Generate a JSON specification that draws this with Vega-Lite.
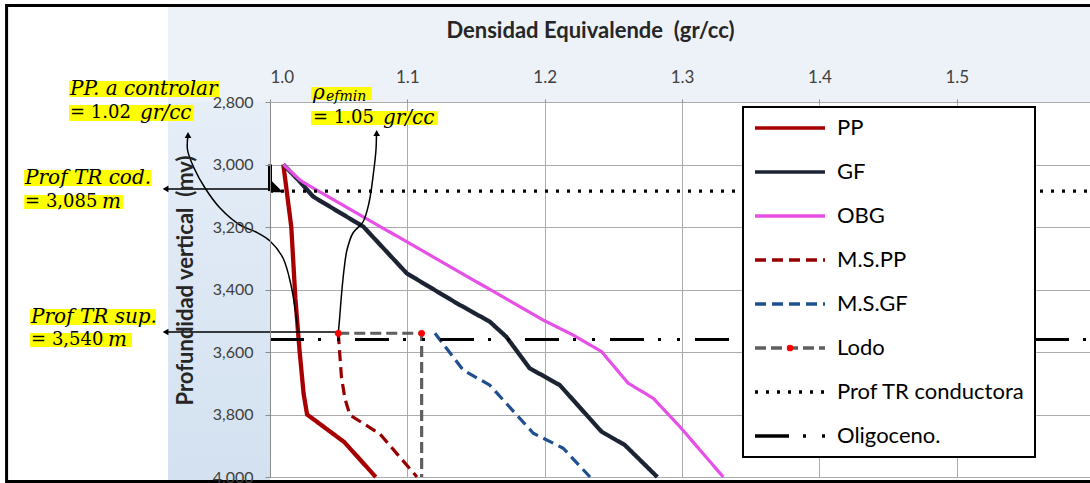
{
  "$schema": "https://vega.github.io/schema/vega-lite/v6.json",
  "width": 820,
  "height": 375,
  "autosize": "none",
  "padding": {"left": 270, "top": 102, "right": 0, "bottom": 6},
  "background": "#ffffff",
  "config": {"view": {"fill": "#ffffff", "stroke": null}, "font": "Lato"},
  "resolve": {"axis": {"x": "independent", "y": "independent"}},
  "datasets": {
    "one": [{"k": 1}],
    "series": [
      {"s": "PP", "i": 1, "x": 1.0097, "y": 3000},
      {"s": "PP", "i": 2, "x": 1.0155, "y": 3200},
      {"s": "PP", "i": 3, "x": 1.0185, "y": 3430},
      {"s": "PP", "i": 4, "x": 1.0215, "y": 3595},
      {"s": "PP", "i": 5, "x": 1.0245, "y": 3735},
      {"s": "PP", "i": 6, "x": 1.027, "y": 3800},
      {"s": "PP", "i": 7, "x": 1.054, "y": 3888},
      {"s": "PP", "i": 8, "x": 1.077, "y": 4000},
      {"s": "GF", "i": 1, "x": 1.0097, "y": 3000},
      {"s": "GF", "i": 2, "x": 1.0218, "y": 3055},
      {"s": "GF", "i": 3, "x": 1.0315, "y": 3103},
      {"s": "GF", "i": 4, "x": 1.068, "y": 3199},
      {"s": "GF", "i": 5, "x": 1.0995, "y": 3348},
      {"s": "GF", "i": 6, "x": 1.1116, "y": 3380},
      {"s": "GF", "i": 7, "x": 1.136, "y": 3444},
      {"s": "GF", "i": 8, "x": 1.16, "y": 3503},
      {"s": "GF", "i": 9, "x": 1.172, "y": 3551},
      {"s": "GF", "i": 10, "x": 1.189, "y": 3652},
      {"s": "GF", "i": 11, "x": 1.211, "y": 3706},
      {"s": "GF", "i": 12, "x": 1.2414, "y": 3855},
      {"s": "GF", "i": 13, "x": 1.2584, "y": 3898},
      {"s": "GF", "i": 14, "x": 1.282, "y": 4000},
      {"s": "OBG", "i": 1, "x": 1.0097, "y": 3000},
      {"s": "OBG", "i": 2, "x": 1.0218, "y": 3050},
      {"s": "OBG", "i": 3, "x": 1.034, "y": 3082},
      {"s": "OBG", "i": 4, "x": 1.199, "y": 3498},
      {"s": "OBG", "i": 5, "x": 1.2208, "y": 3546},
      {"s": "OBG", "i": 6, "x": 1.2414, "y": 3599},
      {"s": "OBG", "i": 7, "x": 1.2608, "y": 3700},
      {"s": "OBG", "i": 8, "x": 1.279, "y": 3748},
      {"s": "OBG", "i": 9, "x": 1.2984, "y": 3839},
      {"s": "OBG", "i": 10, "x": 1.33, "y": 4000},
      {"s": "M.S.PP", "i": 1, "x": 1.0497, "y": 3540},
      {"s": "M.S.PP", "i": 2, "x": 1.052, "y": 3680},
      {"s": "M.S.PP", "i": 3, "x": 1.0546, "y": 3750},
      {"s": "M.S.PP", "i": 4, "x": 1.0582, "y": 3802},
      {"s": "M.S.PP", "i": 5, "x": 1.08, "y": 3862},
      {"s": "M.S.PP", "i": 6, "x": 1.107, "y": 4000},
      {"s": "M.S.GF", "i": 1, "x": 1.1201, "y": 3540},
      {"s": "M.S.GF", "i": 2, "x": 1.1407, "y": 3658},
      {"s": "M.S.GF", "i": 3, "x": 1.16, "y": 3706},
      {"s": "M.S.GF", "i": 4, "x": 1.1917, "y": 3860},
      {"s": "M.S.GF", "i": 5, "x": 1.2135, "y": 3908},
      {"s": "M.S.GF", "i": 6, "x": 1.233, "y": 4000},
      {"s": "Lodo", "i": 1, "x": 1.0497, "y": 3540},
      {"s": "Lodo", "i": 2, "x": 1.1104, "y": 3540},
      {"s": "Lodo", "i": 3, "x": 1.1104, "y": 4000},
      {"s": "Prof TR conductora", "i": 1, "x": 1.0, "y": 3085},
      {"s": "Prof TR conductora", "i": 2, "x": 1.597, "y": 3085},
      {"s": "Oligoceno.", "i": 1, "x": 1.0, "y": 3560},
      {"s": "Oligoceno.", "i": 2, "x": 1.597, "y": 3560}
    ],
    "dots": [
      {"s": "Lodo", "x": 1.0497, "y": 3540},
      {"s": "Lodo", "x": 1.1104, "y": 3540}
    ],
    "guides": [
      {"g": "a", "i": 1, "x": 0.94032, "y": 2905},
      {"g": "a", "i": 2, "x": 0.93996, "y": 2953.6},
      {"g": "a", "i": 3, "x": 0.94469, "y": 3011.2},
      {"g": "a", "i": 4, "x": 0.95269, "y": 3075.2},
      {"g": "a", "i": 5, "x": 0.96361, "y": 3139.2},
      {"g": "a", "i": 6, "x": 0.97817, "y": 3193.6},
      {"g": "a", "i": 7, "x": 0.98981, "y": 3216},
      {"g": "a", "i": 8, "x": 1.0, "y": 3244.8},
      {"g": "a", "i": 9, "x": 1.00946, "y": 3299.2},
      {"g": "a", "i": 10, "x": 1.01528, "y": 3385.6},
      {"g": "a", "i": 11, "x": 1.01892, "y": 3481.6},
      {"g": "a", "i": 12, "x": 1.02038, "y": 3539.2},
      {"g": "b", "i": 1, "x": 1.07751, "y": 2900},
      {"g": "b", "i": 2, "x": 1.07715, "y": 2953.6},
      {"g": "b", "i": 3, "x": 1.07533, "y": 3027.2},
      {"g": "b", "i": 4, "x": 1.07205, "y": 3123.2},
      {"g": "b", "i": 5, "x": 1.06769, "y": 3184},
      {"g": "b", "i": 6, "x": 1.06041, "y": 3219.2},
      {"g": "b", "i": 7, "x": 1.05604, "y": 3273.6},
      {"g": "b", "i": 8, "x": 1.05386, "y": 3337.6},
      {"g": "b", "i": 9, "x": 1.05204, "y": 3417.6},
      {"g": "b", "i": 10, "x": 1.05058, "y": 3497.6},
      {"g": "b", "i": 11, "x": 1.04971, "y": 3539.2},
      {"g": "c", "i": 1, "x": 0.92394, "y": 3078},
      {"g": "c", "i": 2, "x": 1.0, "y": 3078},
      {"g": "d", "i": 1, "x": 0.92394, "y": 3536},
      {"g": "d", "i": 2, "x": 1.04971, "y": 3536}
    ],
    "heads": [
      {"d": "up", "x": 0.94032, "y": 2905.6},
      {"d": "up", "x": 1.07766, "y": 2899.2},
      {"d": "left", "x": 0.92394, "y": 3078},
      {"d": "left", "x": 0.92394, "y": 3536}
    ],
    "hl": [
      {"x": 0.85371, "x2": 0.96288, "y": 2732.8, "y2": 2784},
      {"x": 0.85371, "x2": 0.94469, "y": 2809.6, "y2": 2860.8},
      {"x": 1.02984, "x2": 1.07424, "y": 2752, "y2": 2793.6},
      {"x": 1.02984, "x2": 1.12227, "y": 2828.8, "y2": 2873.6},
      {"x": 0.82096, "x2": 0.91339, "y": 3017.6, "y2": 3068.8},
      {"x": 0.82096, "x2": 0.89301, "y": 3097.6, "y2": 3142.4},
      {"x": 0.82533, "x2": 0.91703, "y": 3462.4, "y2": 3513.6},
      {"x": 0.82533, "x2": 0.89956, "y": 3539.2, "y2": 3584}
    ],
    "notes": [
      {"t": "PP. a controlar", "k": "it", "x": 0.85444, "y": 2758.4},
      {"t": "= 1.02", "k": "rm", "x": 0.85444, "y": 2835.2},
      {"t": "gr/cc", "k": "it", "x": 0.90539, "y": 2835.2},
      {"t": "ρ", "k": "it", "x": 1.0313, "y": 2771.2},
      {"t": "efmin", "k": "sub", "x": 1.04076, "y": 2784},
      {"t": "= 1.05", "k": "rm", "x": 1.0313, "y": 2851.2},
      {"t": "gr/cc", "k": "it", "x": 1.08224, "y": 2851.2},
      {"t": "Prof TR cod.", "k": "it", "x": 0.82169, "y": 3043.2},
      {"t": "= 3,085", "k": "rm", "x": 0.82169, "y": 3120},
      {"t": "m", "k": "it", "x": 0.87773, "y": 3120},
      {"t": "Prof TR sup.", "k": "it", "x": 0.82606, "y": 3488},
      {"t": "= 3,540", "k": "rm", "x": 0.82606, "y": 3561.6},
      {"t": "m", "k": "it", "x": 0.88211, "y": 3561.6}
    ]
  },
  "layer": [
    {
      "data": {"name": "one"},
      "mark": {"type": "rect", "color": "#edf2f9"},
      "encoding": {
        "x": {"datum": 0.92576, "type": "quantitative", "axis": null},
        "x2": {"datum": 1.62},
        "y": {"datum": 2496, "type": "quantitative", "axis": null},
        "y2": {"datum": 2800}
      }
    },
    {
      "data": {"name": "one"},
      "mark": {"type": "rect", "color": {"gradient": "linear", "x1": 0, "y1": 0, "x2": 0, "y2": 1, "stops": [{"offset": 0, "color": "#e6eef8"}, {"offset": 1, "color": "#d3e1f0"}]}},
      "encoding": {
        "x": {"datum": 0.92576, "type": "quantitative", "axis": null},
        "x2": {"datum": 1.0},
        "y": {"datum": 2800, "type": "quantitative", "axis": null},
        "y2": {"datum": 4013}
      }
    },
    {
      "data": {"name": "one"},
      "mark": {"type": "rect", "fill": "#ffffff", "fillOpacity": 0, "stroke": "#000000", "strokeWidth": 3},
      "encoding": {
        "x": {"datum": 0.80822, "type": "quantitative", "axis": null},
        "x2": {"datum": 1.62},
        "y": {"datum": 2491.2, "type": "quantitative", "axis": null},
        "y2": {"datum": 4014.4}
      }
    },
    {
      "data": {"name": "series"},
      "transform": [{"filter": "datum.s === 'PP' || datum.s === 'GF'"}],
      "mark": {"type": "line", "strokeWidth": 4.3, "strokeJoin": "round"},
      "encoding": {
        "x": {"field": "x", "type": "quantitative", "scale": {"domain": [1.0, 1.597], "nice": false, "zero": false},
          "axis": {"orient": "top", "grid": true, "gridColor": "#ababab", "gridWidth": 1, "labels": false, "ticks": false, "domain": false, "title": null, "values": [1.0, 1.1, 1.2, 1.3, 1.4, 1.5], "zindex": 0}},
        "y": {"field": "y", "type": "quantitative", "scale": {"domain": [2800, 4000], "reverse": true, "nice": false, "zero": false},
          "axis": {"orient": "left", "grid": true, "gridColor": "#ababab", "gridWidth": 1, "labels": false, "ticks": false, "domain": false, "title": null, "values": [2800, 3000, 3200, 3400, 3600, 3800, 4000], "zindex": 0}},
        "color": {"field": "s", "type": "nominal",
          "scale": {"domain": ["PP", "GF", "OBG", "M.S.PP", "M.S.GF", "Lodo", "Prof TR conductora", "Oligoceno."], "range": ["#a80000", "#1c2434", "#e650e6", "#960000", "#1f4f8f", "#5f5f5f", "#000000", "#000000"]},
          "legend": {"orient": "none", "legendX": 473, "legendY": 5, "title": null, "direction": "vertical", "padding": 10, "rowPadding": 22, "clipHeight": 22, "symbolType": "stroke", "symbolSize": 4900, "symbolStrokeWidth": 3.5, "labelFont": "Lato", "labelFontSize": 22, "labelColor": "#000000", "labelOffset": 10, "labelLimit": 400, "strokeColor": "#000000", "fillColor": "#ffffff", "zindex": 1, "encode": {"legend": {"update": {"strokeWidth": {"value": 2}}}}}},
        "strokeDash": {"field": "s", "type": "nominal",
          "scale": {"domain": ["PP", "GF", "OBG", "M.S.PP", "M.S.GF", "Lodo", "Prof TR conductora", "Oligoceno."], "range": [[1, 0], [1, 0], [1, 0], [11, 6], [11, 6], [11, 5], [3, 8], [34, 14, 3, 16, 3, 15]]},
          "legend": {"orient": "none", "legendX": 473, "legendY": 5, "title": null, "direction": "vertical", "padding": 10, "rowPadding": 22, "clipHeight": 22, "symbolType": "stroke", "symbolSize": 4900, "symbolStrokeWidth": 3.5, "labelFont": "Lato", "labelFontSize": 22, "labelColor": "#000000", "labelOffset": 10, "labelLimit": 400, "strokeColor": "#000000", "fillColor": "#ffffff", "zindex": 1, "encode": {"legend": {"update": {"strokeWidth": {"value": 2}}}}}},
        "order": {"field": "i", "type": "quantitative"}
      }
    },
    {
      "data": {"name": "series"},
      "transform": [{"filter": "datum.s !== 'PP' && datum.s !== 'GF'"}],
      "mark": {"type": "line", "strokeWidth": 3.2, "strokeJoin": "round"},
      "encoding": {
        "x": {"field": "x", "type": "quantitative",
          "axis": {"orient": "top", "grid": false, "values": [1.0, 1.1, 1.2, 1.3, 1.4, 1.5], "format": ".1f", "labelFont": "Lato", "labelFontSize": 17, "labelColor": "#404040", "tickSize": 3, "tickColor": "#8c8c8c", "labelPadding": 13, "domain": false,
            "title": "Densidad Equivalende\u00a0 (gr/cc)", "titleFont": "Lato", "titleFontSize": 22, "titleFontWeight": "bold", "titleColor": "#262626", "titleX": 320, "titleY": -72, "titleBaseline": "middle", "titleAlign": "center", "zindex": 1}},
        "y": {"field": "y", "type": "quantitative",
          "axis": {"orient": "left", "grid": false, "values": [2800, 3000, 3200, 3400, 3600, 3800, 4000], "format": ",d", "labelFont": "Lato", "labelFontSize": 16, "labelColor": "#404040", "tickSize": 5, "tickColor": "#8c8c8c", "labelPadding": 12, "domain": true, "domainColor": "#8c8c8c",
            "title": "Profundidad vertical\u00a0 (mv)", "titleFont": "Lato", "titleFontSize": 22, "titleFontWeight": "bold", "titleColor": "#262626", "titleAngle": -90, "titleX": -85, "titleY": 178, "titleBaseline": "middle", "titleAlign": "center", "zindex": 1}},
        "color": {"field": "s", "type": "nominal"},
        "strokeDash": {"field": "s", "type": "nominal"},
        "order": {"field": "i", "type": "quantitative"}
      }
    },
    {
      "data": {"name": "guides"},
      "mark": {"type": "line", "color": "#000000", "strokeWidth": 1.5, "interpolate": "catmull-rom"},
      "encoding": {
        "x": {"field": "x", "type": "quantitative", "axis": null},
        "y": {"field": "y", "type": "quantitative", "axis": null},
        "detail": {"field": "g"},
        "order": {"field": "i", "type": "quantitative"}
      }
    },
    {
      "data": {"name": "heads"},
      "transform": [{"filter": "datum.d === 'up'"}],
      "mark": {"type": "point", "shape": "triangle-up", "filled": true, "color": "#000000", "size": 45, "opacity": 1},
      "encoding": {
        "x": {"field": "x", "type": "quantitative", "axis": null},
        "y": {"field": "y", "type": "quantitative", "axis": null}
      }
    },
    {
      "data": {"name": "heads"},
      "transform": [{"filter": "datum.d === 'left'"}],
      "mark": {"type": "point", "shape": "triangle-left", "filled": true, "color": "#000000", "size": 45, "opacity": 1},
      "encoding": {
        "x": {"field": "x", "type": "quantitative", "axis": null},
        "y": {"field": "y", "type": "quantitative", "axis": null}
      }
    },
    {
      "data": {"name": "dots"},
      "mark": {"type": "point", "shape": "circle", "filled": true, "size": 45, "opacity": 1},
      "encoding": {
        "x": {"field": "x", "type": "quantitative", "axis": null},
        "y": {"field": "y", "type": "quantitative", "axis": null},
        "fill": {"field": "s", "type": "nominal", "scale": {"domain": ["Lodo"], "range": ["#ff0000"]},
          "legend": {"orient": "none", "legendX": 516.5, "legendY": 242, "title": null, "padding": 0, "labelExpr": "''", "labelFontSize": 1, "symbolType": "circle", "symbolSize": 45, "symbolStrokeWidth": 0, "clipHeight": 8, "zindex": 2}}
      }
    },
    {
      "data": {"name": "one"},
      "mark": {"type": "rule", "color": "#000000", "strokeWidth": 4},
      "encoding": {
        "x": {"datum": 1.0, "type": "quantitative", "axis": null},
        "y": {"datum": 3000, "type": "quantitative", "axis": null},
        "y2": {"datum": 3085}
      }
    },
    {
      "data": {"name": "one"},
      "mark": {"type": "point", "shape": "M-1,-1L-1,1L1,1Z", "filled": true, "color": "#000000", "size": 121, "opacity": 1},
      "encoding": {
        "x": {"datum": 1.00546, "type": "quantitative", "axis": null},
        "y": {"datum": 3071, "type": "quantitative", "axis": null}
      }
    },
    {
      "data": {"name": "hl"},
      "mark": {"type": "rect", "color": "#ffff00"},
      "encoding": {
        "x": {"field": "x", "type": "quantitative", "axis": null},
        "x2": {"field": "x2"},
        "y": {"field": "y", "type": "quantitative", "axis": null},
        "y2": {"field": "y2"}
      }
    },
    {
      "data": {"name": "notes"},
      "transform": [{"filter": "datum.k === 'it'"}],
      "mark": {"type": "text", "font": "DejaVu Serif", "fontStyle": "italic", "fontSize": 20, "align": "left", "baseline": "middle", "color": "#000000"},
      "encoding": {
        "x": {"field": "x", "type": "quantitative", "axis": null},
        "y": {"field": "y", "type": "quantitative", "axis": null},
        "text": {"field": "t"}
      }
    },
    {
      "data": {"name": "notes"},
      "transform": [{"filter": "datum.k === 'rm'"}],
      "mark": {"type": "text", "font": "DejaVu Serif", "fontSize": 18, "align": "left", "baseline": "middle", "color": "#000000"},
      "encoding": {
        "x": {"field": "x", "type": "quantitative", "axis": null},
        "y": {"field": "y", "type": "quantitative", "axis": null},
        "text": {"field": "t"}
      }
    },
    {
      "data": {"name": "notes"},
      "transform": [{"filter": "datum.k === 'sub'"}],
      "mark": {"type": "text", "font": "DejaVu Serif", "fontStyle": "italic", "fontSize": 14, "align": "left", "baseline": "middle", "color": "#000000"},
      "encoding": {
        "x": {"field": "x", "type": "quantitative", "axis": null},
        "y": {"field": "y", "type": "quantitative", "axis": null},
        "text": {"field": "t"}
      }
    }
  ]
}
